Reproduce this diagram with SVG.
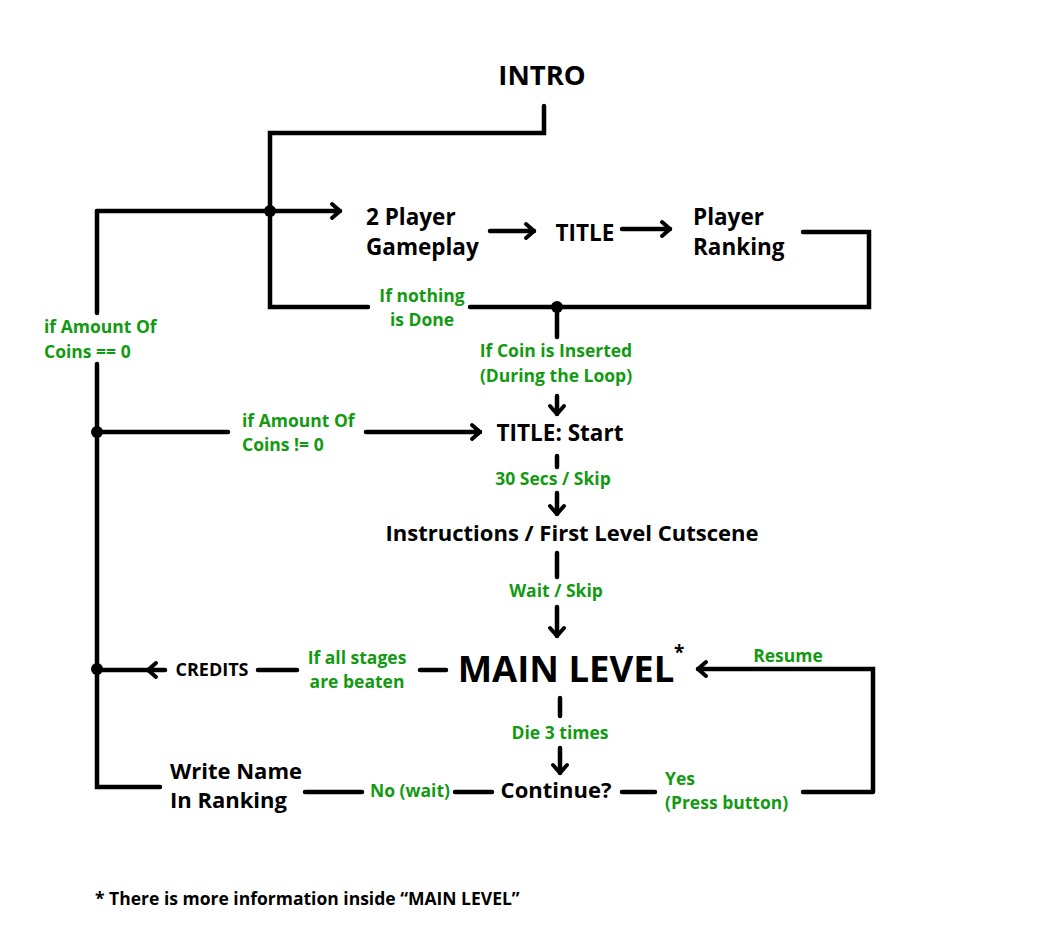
<svg xmlns="http://www.w3.org/2000/svg" width="1037" height="929" viewBox="0 0 1037 929">
<style>
.t{font-family:"Open Sans","Liberation Sans",sans-serif;font-weight:700;fill:#000}
.g{font-family:"Open Sans","Liberation Sans",sans-serif;font-weight:700;fill:#129a12;font-size:17.5px}
.ln{stroke:#000;stroke-width:4.5;fill:none;stroke-linecap:round;stroke-linejoin:miter}
.ar{marker-end:url(#ah)}
</style>
<defs>
<marker id="ah" markerUnits="userSpaceOnUse" viewBox="0 0 14 20" refX="11" refY="10" markerWidth="14" markerHeight="20" orient="auto">
<path d="M3,3 L11,10 L3,17" fill="none" stroke="#000" stroke-width="4" stroke-linecap="round" stroke-linejoin="round"/>
</marker>
</defs>
<rect width="1037" height="929" fill="#fff"/>
<g id="connectors">
<path class="ln" d="M544,106 V133 H270 V307 H368"/>
<path class="ln" d="M470,307 H869 V232 H803"/>
<path class="ln ar" d="M97,211 H340"/>
<path class="ln" d="M97,211 V313"/>
<path class="ln" d="M97,364 V787 H160"/>
<path class="ln" d="M97,432 H228"/>
<path class="ln ar" d="M366,432 H480"/>
<path class="ln ar" d="M490,231 H534"/>
<path class="ln ar" d="M622,229 H670"/>
<path class="ln" d="M557,307 V337"/>
<path class="ln ar" d="M557,396 V414"/>
<path class="ln" d="M557,456 V467"/>
<path class="ln ar" d="M557,493 V514"/>
<path class="ln" d="M557,553 V577"/>
<path class="ln ar" d="M557,607 V636"/>
<path class="ln" d="M446,670 H420"/>
<path class="ln" d="M297,670 H258"/>
<path class="ln ar" d="M165,670 H148"/>
<path class="ln" d="M148,670 H97"/>
<path class="ln ar" d="M873,792 H803 M873,792 V669 H698"/>
<path class="ln" d="M560,698 V716"/>
<path class="ln ar" d="M560,748 V773"/>
<path class="ln" d="M492,792 H455"/>
<path class="ln" d="M362,792 H305"/>
<path class="ln" d="M622,792 H655"/>
<circle cx="270" cy="211" r="6"/>
<circle cx="557" cy="307" r="6"/>
<circle cx="97" cy="432" r="6"/>
<circle cx="97" cy="669" r="6"/>
</g>
<g id="intro"><text class="t" x="542" y="85" font-size="27.5" text-anchor="middle">INTRO</text></g>
<g id="gameplay"><text class="t" x="366" y="225" font-size="22.5">2 Player</text><text class="t" x="366" y="255" font-size="22.5">Gameplay</text></g>
<g id="title"><text class="t" x="585" y="241" font-size="22.5" text-anchor="middle">TITLE</text></g>
<g id="ranking"><text class="t" x="693" y="225" font-size="22.5">Player</text><text class="t" x="693" y="255" font-size="22.5">Ranking</text></g>
<g id="lbl-nothing"><text class="g" x="422" y="302" text-anchor="middle">If nothing</text><text class="g" x="422" y="326" text-anchor="middle">is Done</text></g>
<g id="lbl-coin"><text class="g" x="556" y="357" text-anchor="middle">If Coin is Inserted</text><text class="g" x="556" y="382" text-anchor="middle">(During the Loop)</text></g>
<g id="lbl-zero"><text class="g" x="44" y="333">if Amount Of</text><text class="g" x="44" y="358">Coins == 0</text></g>
<g id="lbl-nonzero"><text class="g" x="242" y="427">if Amount Of</text><text class="g" x="242" y="451">Coins != 0</text></g>
<g id="title-start"><text class="t" x="560" y="441" font-size="22.5" text-anchor="middle">TITLE: Start</text></g>
<g id="lbl-30"><text class="g" x="553" y="485" text-anchor="middle">30 Secs / Skip</text></g>
<g id="instructions"><text class="t" x="572" y="541" font-size="22" text-anchor="middle">Instructions / First Level Cutscene</text></g>
<g id="lbl-wait"><text class="g" x="556" y="597" text-anchor="middle">Wait / Skip</text></g>
<g id="main-level"><text class="t" x="566" y="682" font-size="36.5" text-anchor="middle">MAIN LEVEL</text><text class="t" x="674" y="659" font-size="19">*</text></g>
<g id="lbl-resume"><text class="g" x="788" y="662" text-anchor="middle">Resume</text></g>
<g id="lbl-stages"><text class="g" x="357" y="664" text-anchor="middle">If all stages</text><text class="g" x="357" y="688" text-anchor="middle">are beaten</text></g>
<g id="credits"><text class="t" x="212" y="676" font-size="18" text-anchor="middle">CREDITS</text></g>
<g id="lbl-die"><text class="g" x="560" y="739" text-anchor="middle">Die 3 times</text></g>
<g id="continue"><text class="t" x="556" y="798" font-size="22" text-anchor="middle">Continue?</text></g>
<g id="lbl-yes"><text class="g" x="665" y="785">Yes</text><text class="g" x="665" y="809">(Press button)</text></g>
<g id="lbl-no"><text class="g" x="410" y="797" text-anchor="middle">No (wait)</text></g>
<g id="write-name"><text class="t" x="170" y="779" font-size="22">Write Name</text><text class="t" x="170" y="808" font-size="22">In Ranking</text></g>
<g id="footnote"><text class="t" x="95" y="905" font-size="17.5">* There is more information inside “MAIN LEVEL”</text></g>
</svg>
